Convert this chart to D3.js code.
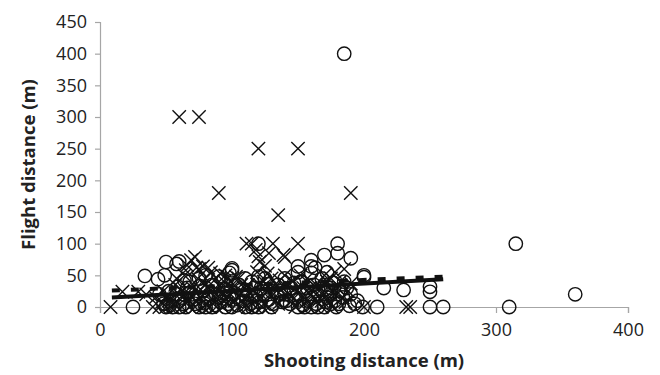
<!DOCTYPE html>
<html lang="en">
<head>
<meta charset="utf-8">
<title>Flight vs shooting distance</title>
<script src="https://d3js.org/d3.v7.min.js"></script>
<style>
  body { margin: 0; background: #fff; }
  text { font-family: "Open Sans", sans-serif; fill: #222; }
</style>
</head>
<body>
<div id="chart"></div>
<script>
// tick labels
var xTicks = [0, 100, 200, 300, 400];
var yTicks = [0, 50, 100, 150, 200, 250, 300, 350, 400, 450];

// series 1: open circles  [shooting distance, flight distance]
var circlePts = [
  [185,400],[315,100],[360,20],[310,0],
  [120,100],[180,100],[180,85],[170,82],[190,77],[160,74],[150,64],[160,64],[163,62],[150,55],[160,54],[172,55],
  [100,61],[98,54],[50,71],[60,72],[58,68],[34,49],[44,44],[49,50],[64,42],[59,32],[93,42],[100,58],
  [200,50],[200,47],[215,30],[230,27],[250,32],[250,24],
  [25,0],[50,0],[55,0],[60,0],[65,0],[75,0],[80,0],[85,0],[95,0],[100,0],[110,0],[115,0],[120,0],[130,0],
  [150,0],[155,0],[160,0],[165,0],[179,0],[189,2],[199,0],[210,0],[250,0],[260,0],
  [45,20],[52,25],[55,10],[62,15],[66,30],[70,20],[72,5],[78,25],[82,12],[85,35],[88,20],[92,8],[95,28],
  [98,15],[102,22],[105,35],[108,10],[112,25],[115,40],[118,18],[122,30],[125,45],[128,12],[130,25],
  [135,35],[138,8],[140,20],[145,30],[148,15],[152,40],[155,25],[158,10],[162,35],[165,20],[168,45],
  [172,15],[175,30],[178,10],[182,25],[185,40],[190,20],[195,10],[170,0],[175,5],[68,40],[75,45],
  [80,50],[90,48],[110,45],[120,48],[140,45],[60,10],[48,5],
  [53,3],[58,20],[63,5],[67,22],[71,12],[76,33],[79,6],[83,20],[87,3],[90,15],[94,22],[97,5],[101,12],
  [104,3],[107,27],[111,15],[114,5],[117,30],[121,8],[124,20],[127,36],[131,5],[134,18],[137,25],
  [141,10],[144,5],[147,38],[151,12],[154,3],[157,30],[161,15],[164,5],[167,28],[171,8],[174,20],
  [177,38],[181,5],[184,15],[187,30],[193,5]
];

// series 2: crosses
var crossPts = [
  [60,300],[75,300],[120,250],[150,250],[90,180],[190,180],[135,145],
  [111,100],[115,100],[131,100],[150,100],[139,82],[120,80],[140,79],[121,71],[69,74],[66,66],[72,79],
  [78,64],[91,53],[127,53],[178,55],[170,50],[190,37],[185,60],[175,45],
  [8,0],[40,0],[45,0],[50,0],[55,0],[62,0],[68,0],[72,0],[78,0],[83,0],[88,0],[93,0],[105,0],[112,0],
  [118,0],[123,0],[128,0],[148,0],[158,0],[168,0],[176,0],[200,0],[232,0],[235,0],
  [17,24],[29,24],[35,20],[42,15],[48,25],[52,10],[57,35],[60,20],[64,50],[67,12],[70,30],[74,45],
  [77,18],[80,35],[84,55],[86,10],[90,25],[94,40],[97,15],[100,30],[103,48],[106,20],[109,5],[112,35],
  [116,25],[119,55],[122,15],[124,40],[126,28],[130,45],[133,10],[136,30],[140,50],[143,20],[146,40],
  [150,8],[154,30],[157,45],[160,20],[164,35],[168,10],[172,40],[176,25],[180,30],[184,15],[65,58],
  [75,60],[82,62],[95,50],[105,45],[125,65],[128,85],[118,90],[80,45],[58,45],
  [47,8],[51,18],[56,5],[61,28],[66,8],[69,18],[73,8],[76,28],[81,5],[85,25],[89,12],[92,32],[96,6],
  [99,20],[102,10],[107,35],[110,15],[113,22],[117,8],[121,35],[124,5],[129,20],[132,30],[135,5],
  [139,15],[142,35],[145,10],[149,25],[153,18],[156,8],[159,30],[163,12],[166,25],[170,20],[174,8],
  [178,20],[182,40],[186,8],[188,25],[73,62],[88,45],[99,40],[136,42],[152,50]
];

// trend lines (end points)
var trendSolid = [[9,15],[260,44]];
var trendDashed = [[9,26],[260,48]];

var w = 660, h = 375;
var padL = 100, padR = 628, padT = 22, padB = 307;

var svg = d3.select("#chart").append("svg")
    .attr("width", w)
    .attr("height", h);

var x = d3.scaleLinear().domain([0, 400]).range([padL, padR]);
var y = d3.scaleLinear().domain([0, 450]).range([padB, padT]);

// axes
var xAxis = svg.append("g")
    .attr("transform", "translate(0," + padB + ")")
    .call(d3.axisBottom(x).tickValues(xTicks).tickSize(6).tickPadding(10));
var yAxis = svg.append("g")
    .attr("transform", "translate(" + padL + ",0)")
    .call(d3.axisLeft(y).tickValues(yTicks).tickSize(5).tickPadding(8));

[xAxis, yAxis].forEach(function(a) {
  a.selectAll("path, line").attr("stroke", "#a6a6a6").attr("stroke-width", 1.2);
  a.selectAll("text").attr("font-size", 18).attr("fill", "#222")
    .attr("font-family", "'Open Sans', sans-serif");
});

// markers
var r = 6.7;
svg.append("g").selectAll("circle")
    .data(circlePts)
    .enter().append("circle")
    .attr("cx", function(d) { return x(d[0]); })
    .attr("cy", function(d) { return y(d[1]); })
    .attr("r", r)
    .attr("fill", "none")
    .attr("stroke", "#111")
    .attr("stroke-width", 1.4);

var s = 6.7;
svg.append("g").selectAll("path")
    .data(crossPts)
    .enter().append("path")
    .attr("d", function(d) {
      var cx = x(d[0]), cy = y(d[1]);
      return "M" + (cx - s) + "," + (cy - s) + "L" + (cx + s) + "," + (cy + s) +
             "M" + (cx - s) + "," + (cy + s) + "L" + (cx + s) + "," + (cy - s);
    })
    .attr("stroke", "#111")
    .attr("stroke-width", 1.4)
    .attr("fill", "none");

// trend lines
var line = d3.line().x(function(d) { return x(d[0]); }).y(function(d) { return y(d[1]); });
svg.append("path").datum(trendDashed)
    .attr("d", line)
    .attr("stroke", "#111").attr("stroke-width", 4)
    .attr("stroke-dasharray", "8,11")
    .attr("fill", "none");
svg.append("path").datum(trendSolid)
    .attr("d", line)
    .attr("stroke", "#111").attr("stroke-width", 4)
    .attr("fill", "none");

// axis titles
svg.append("text")
    .attr("x", x(200))
    .attr("y", 367)
    .attr("text-anchor", "middle")
    .attr("font-size", 18.5)
    .attr("font-weight", "bold")
    .text("Shooting distance (m)");
svg.append("text")
    .attr("transform", "translate(35," + y(225) + ") rotate(-90)")
    .attr("text-anchor", "middle")
    .attr("font-size", 18.5)
    .attr("font-weight", "bold")
    .text("Flight distance (m)");
</script>
</body>
</html>
